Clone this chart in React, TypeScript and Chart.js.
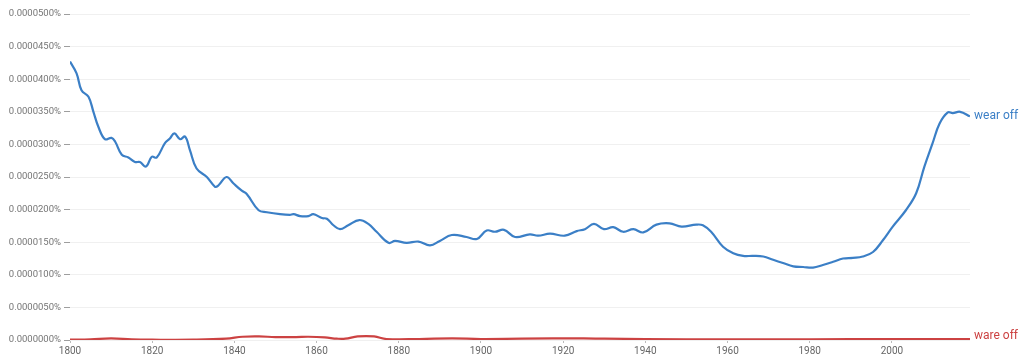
import React, { useEffect, useRef } from "react";
import { Chart, registerables } from "chart.js";

Chart.register(...registerables);

// Values are in percent (e.g. 0.0000427 means 0.0000427%)
const wearYears = [
  1800, 1801.6, 1802.8, 1804.5, 1805.7, 1806.9, 1808.5, 1810.1, 1811, 1812.6,
  1814.2, 1815.8, 1817, 1818.5, 1819.9, 1821.1, 1823.1, 1824.3, 1825.4, 1826.8,
  1828, 1829.2, 1830.8, 1833.3, 1835.3, 1836.1, 1838.1, 1839.8, 1841.8, 1843,
  1845.9, 1847.9, 1851.1, 1853.5, 1854.4, 1856, 1858, 1859.2, 1861.3, 1862.5,
  1864.1, 1865.7, 1867.7, 1870.4, 1872.6, 1874.6, 1877.5, 1879.1, 1881.9, 1884.8,
  1887.6, 1890, 1892.9, 1896.5, 1899, 1901.4, 1903.4, 1905.6, 1908.3, 1911.9,
  1913.9, 1916.8, 1920.4, 1923.3, 1925.3, 1927.5, 1929.9, 1932.2, 1934.6, 1937.1,
  1939.5, 1942.7, 1945.9, 1948.8, 1952.4, 1954, 1956, 1958.9, 1961.4, 1963.8,
  1966.2, 1968.7, 1971.1, 1973.5, 1976, 1978.4, 1980.8, 1983.2, 1985.7, 1988.1,
  1990.5, 1992.9, 1995.4, 1997.8, 2000.2, 2003.4, 2005.9, 2007.9, 2009.9, 2011.6,
  2013.6, 2014.8, 2016.6, 2019,
];
const wearValues = [
  42.7, 40.9, 38.3, 37.3, 35.0, 32.7, 30.8, 31.0, 30.4, 28.4,
  28.0, 27.3, 27.3, 26.6, 28.1, 28.0, 30.2, 30.9, 31.7, 30.8,
  31.2, 29.1, 26.3, 25.0, 23.5, 23.7, 25.0, 24.0, 22.9, 22.4,
  19.9, 19.6, 19.3, 19.2, 19.3, 19.0, 19.0, 19.3, 18.7, 18.6,
  17.6, 17.0, 17.6, 18.4, 17.8, 16.6, 14.9, 15.2, 14.9, 15.1,
  14.5, 15.2, 16.1, 15.8, 15.5, 16.8, 16.6, 16.9, 15.8, 16.2,
  16.0, 16.3, 16.0, 16.7, 17.0, 17.8, 17.0, 17.3, 16.6, 17.0,
  16.5, 17.7, 17.9, 17.4, 17.7, 17.6, 16.6, 14.3, 13.3, 12.9,
  12.9, 12.8, 12.3, 11.8, 11.3, 11.2, 11.1, 11.5, 12.0, 12.5,
  12.6, 12.8, 13.5, 15.3, 17.4, 19.9, 22.5, 26.6, 30.2, 33.2,
  34.9, 34.8, 35.0, 34.3,
].map((v) => v * 1e-6);

const wareYears = [
  1800, 1805, 1810, 1815, 1820, 1830, 1838, 1842, 1846, 1850,
  1855, 1858, 1862, 1865, 1867, 1870, 1874, 1877, 1885, 1893,
  1900, 1910, 1925, 1930, 1940, 1960, 1980, 2000, 2019,
];
const wareValues = [
  0.05, 0.1, 0.25, 0.1, 0.05, 0.05, 0.2, 0.5, 0.55, 0.45,
  0.45, 0.5, 0.4, 0.2, 0.2, 0.55, 0.55, 0.15, 0.15, 0.25,
  0.15, 0.2, 0.25, 0.2, 0.15, 0.1, 0.1, 0.15, 0.15,
].map((v) => v * 1e-6);

const seriesNames = ["wear off", "ware off"];
const seriesColors = ["#3b7fc6", "#cc4242"];
const xTicks = [1800, 1820, 1840, 1860, 1880, 1900, 1920, 1940, 1960, 1980, 2000];

const endLabels = {
  id: "endLabels",
  afterDatasetsDraw(chart: any) {
    const ctx = chart.ctx;
    ctx.save();
    ctx.font = "12px Roboto";
    ctx.textBaseline = "middle";
    ctx.textAlign = "left";
    chart.data.datasets.forEach((ds: any, i: number) => {
      const meta = chart.getDatasetMeta(i);
      const pt = meta.data[meta.data.length - 1];
      if (!pt) return;
      ctx.fillStyle = ds.borderColor;
      const y = i === 1 ? pt.y - 3 : pt.y;
      ctx.fillText(ds.label, pt.x + 4, y);
    });
    ctx.restore();
  },
};

export default function App() {
  const ref = useRef<HTMLCanvasElement | null>(null);
  useEffect(() => {
    document.body.style.margin = "0";
    const toPts = (xs: number[], ys: number[]) => xs.map((x, i) => ({ x, y: ys[i] }));
    const chart = new Chart(ref.current as HTMLCanvasElement, {
      type: "line",
      data: {
        datasets: [
          {
            label: seriesNames[0],
            data: toPts(wearYears, wearValues),
            borderColor: seriesColors[0],
            borderWidth: 2.2,
            pointRadius: 0,
            tension: 0.4,
            fill: false,
          },
          {
            label: seriesNames[1],
            data: toPts(wareYears, wareValues),
            borderColor: seriesColors[1],
            borderWidth: 2.2,
            pointRadius: 0,
            tension: 0.4,
            fill: false,
          },
        ],
      },
      options: {
        animation: false,
        responsive: false,
        maintainAspectRatio: false,
        layout: { padding: { top: 14, right: 54, left: 0, bottom: 0 } },
        plugins: { legend: { display: false }, tooltip: { enabled: false } },
        scales: {
          x: {
            type: "linear",
            min: 1800,
            max: 2019,
            afterBuildTicks: (scale: any) => {
              scale.ticks = xTicks.map((v) => ({ value: v }));
            },
            afterFit: (scale: any) => {
              scale.height = 22;
            },
            grid: {
              display: true,
              drawOnChartArea: false,
              drawTicks: true,
              tickLength: 3,
              tickColor: "#bbb",
            },
            border: { display: false },
            ticks: {
              padding: 2,
              color: "#666",
              font: { family: "Roboto", size: 10 },
              maxRotation: 0,
              autoSkip: false,
              callback: (v: any) => String(v),
            },
          },
          y: {
            min: 0,
            max: 5e-5,
            afterFit: (scale: any) => {
              scale.width = 70;
            },
            grid: {
              color: "#f0f0f0",
              tickColor: "#9e9e9e",
              tickLength: 6,
              lineWidth: 1,
            },
            border: { display: false },
            ticks: {
              stepSize: 5e-6,
              padding: 3,
              color: "#757575",
              font: { family: "Roboto", size: 9.5 },
              callback: (v: any) => Number(v).toFixed(7) + "%",
            },
          },
        },
      },
      plugins: [endLabels],
    });
    return () => chart.destroy();
  }, []);
  return (
    <div style={{ width: 1024, height: 362, background: "#fff" }}>
      <canvas ref={ref} width={1024} height={362} style={{ display: "block" }} />
    </div>
  );
}
